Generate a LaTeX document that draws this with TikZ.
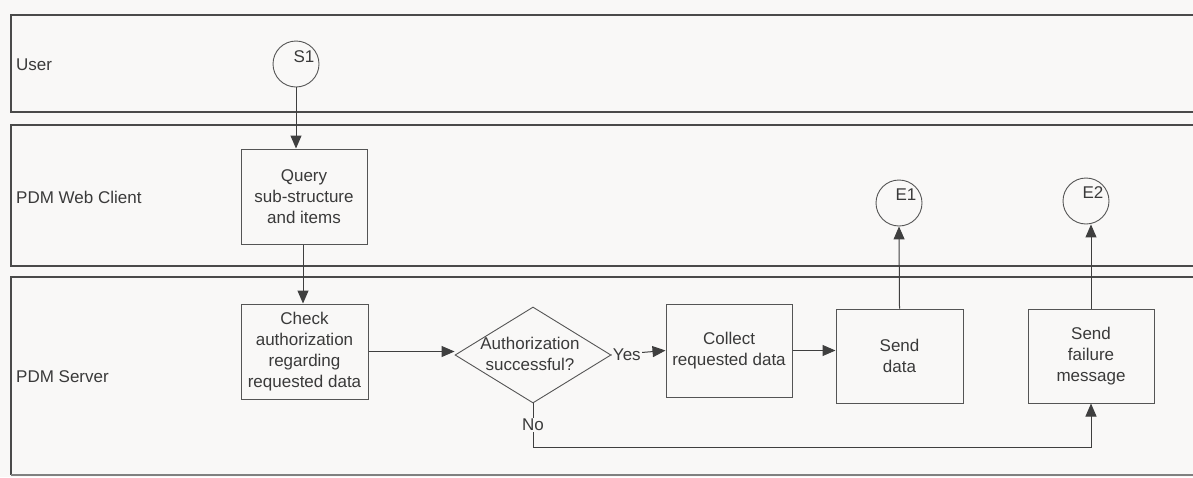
\documentclass[tikz,border=0pt]{standalone}
\usepackage{fontspec}
\setmainfont{Liberation Sans}
\usetikzlibrary{shapes.geometric,arrows.meta,calc}
\definecolor{bg}{HTML}{F9F8F7}
\definecolor{ink}{HTML}{3A3A3A}
\definecolor{edgec}{HTML}{555555}
\definecolor{lanec}{HTML}{4A4A4A}
\definecolor{conn}{HTML}{3F3F3F}
\begin{document}
\begin{tikzpicture}[x=1pt,y=-1pt,
  font=\fontsize{17}{20.8}\selectfont, text=ink,
  box/.style={draw=edgec, line width=1pt, align=center, inner sep=2pt},
  endc/.style={draw=edgec, line width=0.9pt, circle, minimum size=46pt, inner sep=0pt},
  lane/.style={draw=lanec, line width=1.3pt},
  lanelbl/.style={anchor=west, inner sep=0pt},
  arr/.style={draw=conn, line width=1pt, -{Triangle[length=13pt,width=11pt]}}]
\useasboundingbox (0,0) rectangle (1193,477);
\fill[bg] (0,0) rectangle (1193,477);

% lanes
\draw[lane] (1200,15) -- (11,15) -- (11,112) -- (1200,112);
\draw[lane] (1200,125) -- (11,125) -- (11,266) -- (1200,266);
\draw[lane] (1200,277) -- (11,277) -- (11,475);
\draw[draw=lanec!70, line width=1.6pt] (11,475) -- (1200,475);
\node[lanelbl] (luser) at (16,65) {User};
\node[lanelbl] (lweb) at (16,197) {PDM Web Client};
\node[lanelbl] (lsrv) at (16,377) {PDM Server};

% events
\node[endc] (s1) at (296,64) {};
\node[inner sep=0pt] (s1t) at ($(s1.center)+(8,-7)$) {S1};
\node[endc] (e1) at (899,203) {};
\node[inner sep=0pt] (e1t) at ($(e1.center)+(7,-8)$) {E1};
\node[endc] (e2) at (1086,201) {};
\node[inner sep=0pt] (e2t) at ($(e2.center)+(7,-8)$) {E2};

% boxes
\node[box, minimum width=126pt, minimum height=95pt] (query) at (304,196.5) {Query\\sub-structure\\and items};
\node[box, minimum width=127pt, minimum height=95pt] (check) at (304.5,351.5) {Check\\authorization\\regarding\\requested data};
\node[draw=edgec, line width=0.9pt, diamond, minimum width=156pt, minimum height=96pt, inner sep=0pt] (dia) at (533,355) {};
\node[align=center, inner sep=0pt] (diat) at (530,354) {Authorization\\successful?};
\node[box, minimum width=126pt, minimum height=93pt] (collect) at (729,350.5) {Collect\\requested data};
\node[box, minimum width=127pt, minimum height=94pt] (send) at (899.5,356) {Send\\data};
\node[box, minimum width=126pt, minimum height=94pt] (fail) at (1091,356) {Send\\failure\\message};

% connectors
\draw[arr] (s1.south) -- (s1.south |- query.north);
\draw[arr] ($(query.south)+(-1,0)$) -- ($(check.north)+(-1.5,0)$);
\draw[arr] (check.east) -- (check.east -| dia.west);
\draw[arr] (dia.east) -- node[pos=0, anchor=west, fill=bg, inner sep=1pt] (yes) {Yes} (collect.west);
\draw[arr] (collect.east) -- (collect.east -| send.west);
\draw[arr] (send.north) -- (e1.south);
\draw[arr] (dia.south) -- node[fill=bg, inner sep=1pt] (no) {No} (533,447) -| (fail.south);
\draw[arr] (fail.north) -- (fail.north |- e2.south);
\end{tikzpicture}
\end{document}
